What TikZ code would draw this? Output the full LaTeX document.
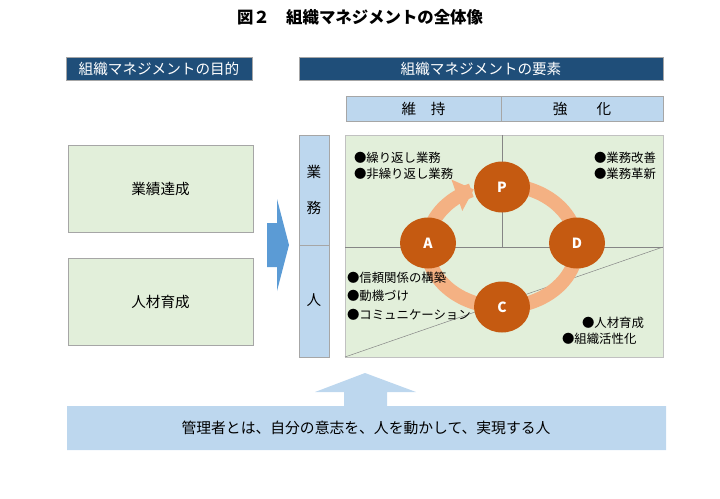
\documentclass[tikz,border=0pt]{standalone}
\usepackage{fontspec}
\setmainfont{Noto Sans CJK JP}
\usetikzlibrary{arrows.meta,shapes.geometric}
\definecolor{hdrblue}{HTML}{1F4E79}
\definecolor{lblue}{HTML}{BDD7EE}
\definecolor{lgreen}{HTML}{E2EFDA}
\definecolor{pdcaorange}{HTML}{C55A11}
\definecolor{ringorange}{HTML}{F4B183}
\definecolor{arrowblue}{HTML}{5B9BD5}
\definecolor{bordergray}{HTML}{A6A6A6}
\begin{document}
\begin{tikzpicture}[x=1pt,y=-1pt,
  every node/.style={inner sep=0pt, outer sep=0pt},
  hdrbox/.style={draw=bordergray, fill=hdrblue, text=white, anchor=north west, font=\fontsize{14.6}{16}\selectfont, line width=0.8pt},
  cellbox/.style={draw=bordergray, fill=lblue, anchor=north west, font=\fontsize{14.6}{16}\selectfont, line width=0.6pt},
  greenbox/.style={draw=bordergray, fill=lgreen, anchor=north west, font=\fontsize{14.6}{16}\selectfont, line width=0.8pt},
  pdca/.style={ellipse, fill=pdcaorange, text=white, minimum width=56pt, minimum height=51pt, font=\fontsize{14}{16}\selectfont\bfseries},
  bullet/.style={anchor=west, font=\fontsize{12.4}{14}\selectfont},
  gridline/.style={draw=bordergray!80!black, line width=0.5pt},
  lbl/.style={font=\fontsize{14.6}{16}\selectfont}
]
\useasboundingbox (0,0) rectangle (720,498);

% title
\node[font=\fontsize{16.4}{18}\selectfont\bfseries] (title) at (360,17) {図２　組織マネジメントの全体像};

% headers
\node[hdrbox, minimum width=186pt, minimum height=23pt] (hleft) at (66,57) {組織マネジメントの目的};
\node[hdrbox, minimum width=364pt, minimum height=23pt] (hright) at (299,57) {組織マネジメントの要素};

% maintain / strengthen
\node[cellbox, minimum width=155pt, minimum height=25pt] (iji) at (346,96) {維　持};
\node[cellbox, minimum width=162pt, minimum height=25pt] (kyoka) at (501,96) {強　　化};

% left goal boxes
\node[greenbox, minimum width=185pt, minimum height=87pt] (gyoseki) at (68,145) {業績達成};
\node[greenbox, minimum width=185pt, minimum height=87pt] (jinzai) at (68,258) {人材育成};

% blue block arrow
\fill[arrowblue] (267,223) -- (277,223) -- (277,199) -- (289,245) -- (277,291) -- (277,267) -- (267,267) -- cycle;

% side column
\node[cellbox, minimum width=30pt, minimum height=110pt] (colgyomu) at (299,135) {};
\node[cellbox, minimum width=30pt, minimum height=112pt] (colhito) at (299,245) {};
\node[lbl] (gy1) at (314,172) {業};
\node[lbl] (gy2) at (314,208) {務};
\node[lbl] (hito) at (314,300) {人};

% main area
\node[draw=bordergray!70, fill=lgreen, anchor=north west, minimum width=318pt, minimum height=222pt, line width=0.6pt] (main) at (345,135) {};
\coordinate (vtop) at (502,135);
\coordinate (vbot) at (502,247);
\coordinate (hl) at (345,247);
\coordinate (hr) at (663,247);
\coordinate (dbl) at (345,357);
\draw[gridline] (vtop) -- (vbot);
\draw[gridline] (hl) -- (hr);
\draw[gridline] (dbl) -- (hr);

% ring arrow
\draw[ringorange, line width=14pt, -{Triangle[width=32pt,length=18pt]}]
  plot[domain=-85:248, samples=120, smooth] ({502+75*cos(\x)}, {246+61*sin(\x)});

% PDCA circles
\node[pdca] (P) at (502,187) {P};
\node[pdca] (A) at (428,243) {A};
\node[pdca] (D) at (577,243) {D};
\node[pdca] (C) at (502,307) {C};

% bullets
\node[bullet] (b1) at (354,158) {●繰り返し業務};
\node[bullet] (b2) at (354,174) {●非繰り返し業務};
\node[bullet] (b3) at (594,158) {●業務改善};
\node[bullet] (b4) at (594,174) {●業務革新};
\node[bullet] (b5) at (347,278) {●信頼関係の構築};
\node[bullet] (b6) at (347,296) {●動機づけ};
\node[bullet] (b7) at (347,315) {●コミュニケーション};
\node[bullet] (b8) at (582,323) {●人材育成};
\node[bullet] (b9) at (562,339) {●組織活性化};

% bottom arrow + box
\fill[lblue] (67,406) -- (344,406) -- (344,392) -- (315,392) -- (365,373) -- (416,392) -- (387,392) -- (387,406) -- (666,406) -- (666,450) -- (67,450) -- cycle;
\node[lbl, font=\fontsize{14.8}{16}\selectfont] (mgr) at (366,428) {管理者とは、自分の意志を、人を動かして、実現する人};
\end{tikzpicture}
\end{document}
